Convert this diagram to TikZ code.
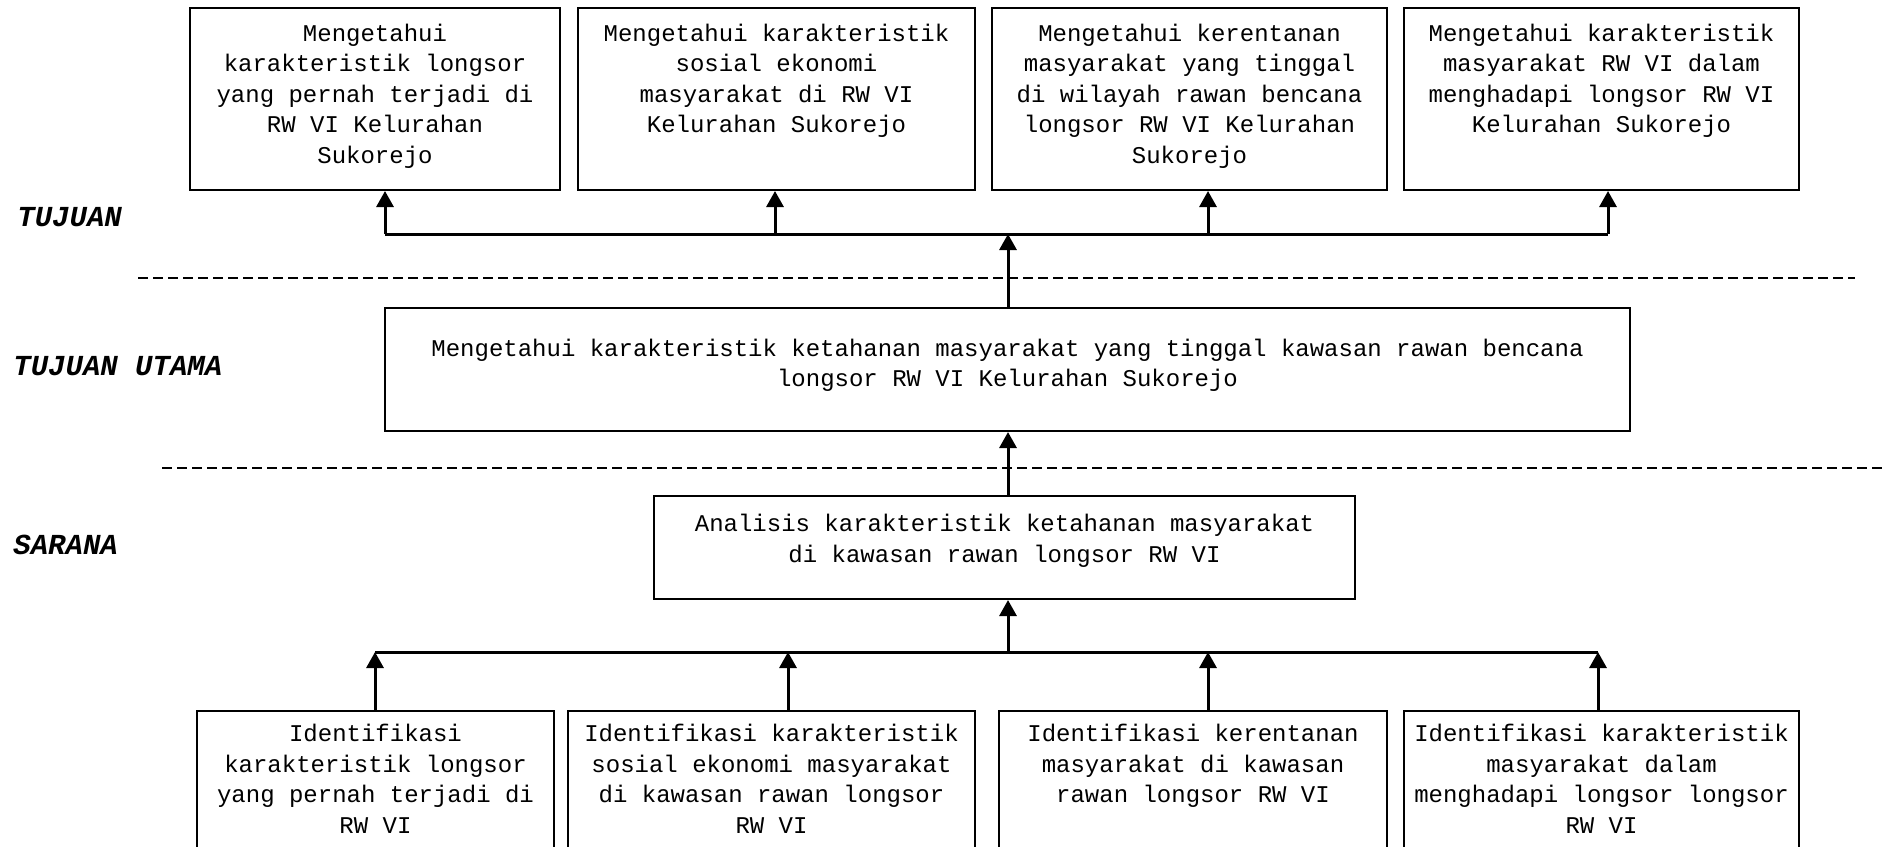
\documentclass[tikz,border=0pt]{standalone}
\usepackage{fontspec}
\setmainfont{Liberation Mono}
\usetikzlibrary{arrows.meta,fit}

\tikzset{
  box/.style={draw=black, line width=1pt, inner sep=0pt},
  txt/.style={anchor=north, align=center, inner sep=0pt,
              font=\fontsize{12}{15.25}\selectfont,
              execute at begin node=\strut},
  arr/.style={line width=1.5pt, -{Triangle[width=8.5pt,length=8pt]}},
  bus/.style={line width=1.5pt},
  sep/.style={line width=1pt, dash pattern=on 5pt off 2.5pt},
  lvl/.style={anchor=west, inner sep=0pt,
              font=\fontsize{14.5}{17}\selectfont\bfseries\itshape},
}

\begin{document}
\begin{tikzpicture}[x=0.5pt, y=-0.5pt]
\useasboundingbox (0,0) rectangle (1883,846);
\clip (0,0) rectangle (1883,846);

% level labels
\node[lvl] (lt)  at (17,217) {TUJUAN};
\node[lvl] (ltu) at (13,366) {TUJUAN UTAMA};
\node[lvl] (ls)  at (13,545) {SARANA};

% separators
\coordinate (d1a) at (138,278);  \coordinate (d1b) at (1855,278);
\coordinate (d2a) at (162,468);  \coordinate (d2b) at (1883,468);
\draw[sep] (d1a) -- (d1b);
\draw[sep] (d2a) -- (d2b);

% goals (top row)
\node[box, fit={(190,8) (560,190)}]   (t1) {};
\node[box, fit={(578,8) (975,190)}]   (t2) {};
\node[box, fit={(992,8) (1387,190)}]  (t3) {};
\node[box, fit={(1404,8) (1799,190)}] (t4) {};
\node[txt] (t1x) at (t1.center |- 0,23.5) {Mengetahui\\karakteristik longsor\\yang pernah terjadi di\\RW VI Kelurahan\\Sukorejo};
\node[txt] (t2x) at (t2.center |- 0,23.5) {Mengetahui karakteristik\\sosial ekonomi\\masyarakat di RW VI\\Kelurahan Sukorejo};
\node[txt] (t3x) at (t3.center |- 0,23.5) {Mengetahui kerentanan\\masyarakat yang tinggal\\di wilayah rawan bencana\\longsor RW VI Kelurahan\\Sukorejo};
\node[txt] (t4x) at (t4.center |- 0,23.5) {Mengetahui karakteristik\\masyarakat RW VI dalam\\menghadapi longsor RW VI\\Kelurahan Sukorejo};

% main goal
\node[box, fit={(385,308) (1630,431)}] (m) {};
\node[txt] (mx) at (m.center |- 0,338.5) {Mengetahui karakteristik ketahanan masyarakat yang tinggal kawasan rawan bencana\\longsor RW VI Kelurahan Sukorejo};

% means
\node[box, fit={(654,496) (1355,599)}] (s) {};
\node[txt] (sx) at (s.center |- 0,513.8) {Analisis karakteristik ketahanan masyarakat\\di kawasan rawan longsor RW VI};

% identification steps (bottom row, running past the lower edge)
\node[box, fit={(197,711) (554,880)}]   (b1) {};
\node[box, fit={(568,711) (975,880)}]   (b2) {};
\node[box, fit={(999,711) (1387,880)}]  (b3) {};
\node[box, fit={(1404,711) (1799,880)}] (b4) {};
\node[txt] (b1x) at (b1.center |- 0,723.8) {Identifikasi\\karakteristik longsor\\yang pernah terjadi di\\RW VI};
\node[txt] (b2x) at (b2.center |- 0,723.8) {Identifikasi karakteristik\\sosial ekonomi masyarakat\\di kawasan rawan longsor\\RW VI};
\node[txt] (b3x) at (b3.center |- 0,723.8) {Identifikasi kerentanan\\masyarakat di kawasan\\rawan longsor RW VI};
\node[txt] (b4x) at (b4.center |- 0,723.8) {Identifikasi karakteristik\\masyarakat dalam\\menghadapi longsor longsor\\RW VI};

% upper distribution bus
\coordinate (u1) at (385,234);
\coordinate (u2) at (775,234);
\coordinate (u3) at (1208,234);
\coordinate (u4) at (1608,234);
\coordinate (uc) at (1008,234);
\draw[bus] (u1) -- (u4);
\draw[arr] (m.north -| uc) -- (uc);
\draw[arr] (u1) -- (u1 |- t1.south);
\draw[arr] (u2) -- (u2 |- t2.south);
\draw[arr] (u3) -- (u3 |- t3.south);
\draw[arr] (u4) -- (u4 |- t4.south);

% means to main goal
\draw[arr] (s.north -| uc) -- (m.south -| uc);

% lower collection bus
\coordinate (k1) at (375,652);
\coordinate (k2) at (788,652);
\coordinate (k3) at (1208,652);
\coordinate (k4) at (1598,652);
\coordinate (kc) at (1008,652);
\draw[bus] (k1) -- (k4);
\draw[arr] (kc) -- (s.south -| kc);
\draw[arr] (b1.north -| k1) -- (k1);
\draw[arr] (b2.north -| k2) -- (k2);
\draw[arr] (b3.north -| k3) -- (k3);
\draw[arr] (b4.north -| k4) -- (k4);
\end{tikzpicture}
\end{document}
